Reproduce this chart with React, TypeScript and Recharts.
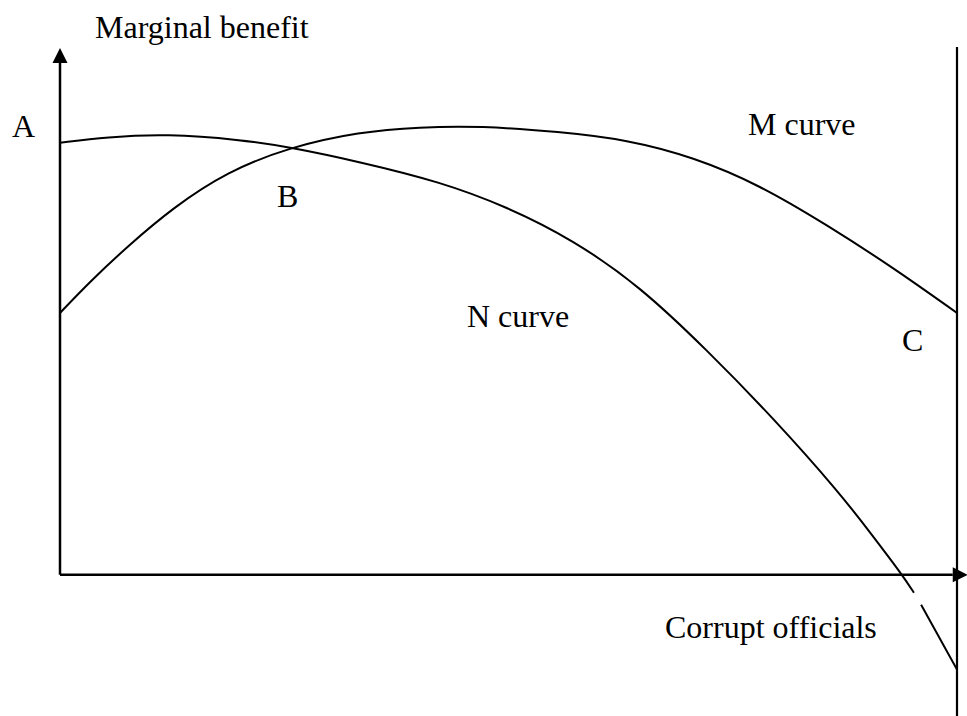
import { LineChart, Line, XAxis, YAxis, ReferenceLine } from "recharts";

// horizontal position = corrupt officials (0..100), vertical = marginal benefit
const mX = [0, 3.3, 7.5, 12.6, 18.6, 25.6, 33.4, 40.1, 46.8, 55.7, 63.2, 70.6, 78.0, 85.5, 92.9, 100];
const mY = [49.7, 55.6, 62.3, 69.7, 76.5, 81.2, 84.1, 85.0, 85.2, 84.1, 82.6, 79.3, 74.0, 66.4, 58.3, 49.7];

// N curve has a small break just below the x axis (null)
const nX = [0, 5.2, 11.9, 20.1, 25.6, 33.4, 42.4, 49.8, 57.2, 64.7, 72.1, 79.5, 87.0, 90.6, 93.9, 95.2, 95.6, 96.0, 100];
const nY = [82.0, 83.1, 83.7, 82.6, 81.2, 78.4, 74.6, 69.9, 63.6, 54.7, 42.7, 29.8, 15.4, 7.4, 0, -3.4, null, -5.7, -18.0];

const mData = mX.map((x, i) => ({ x, y: mY[i] }));
const nData = nX.map((x, i) => ({ x, y: nY[i] }));

const font = { fontFamily: "'Liberation Serif', 'Times New Roman', serif", fontSize: 32, fill: "#000" };

const ArrowLine = (p: any) => {
  const { x1, y1, x2, y2 } = p;
  const a = Math.atan2(y2 - y1, x2 - x1);
  const len = 15;
  const hw = 7.5;
  const bx = x2 - len * Math.cos(a);
  const by = y2 - len * Math.sin(a);
  const pts = `${x2},${y2} ${bx - hw * Math.sin(a)},${by + hw * Math.cos(a)} ${bx + hw * Math.sin(a)},${by - hw * Math.cos(a)}`;
  return (
    <g>
      <line x1={x1} y1={y1} x2={bx} y2={by} stroke="#000" strokeWidth={2.5} />
      <polygon points={pts} fill="#000" />
    </g>
  );
};

export default function App() {
  return (
    <div style={{ position: "absolute", left: 0, top: 0, background: "#fff" }}>
      <LineChart width={967} height={716} margin={{ top: 48, right: 10, bottom: 0, left: 60 }}>
        <XAxis type="number" dataKey="x" domain={[0, 100]} hide allowDataOverflow />
        <YAxis type="number" dataKey="y" domain={[-26.8, 100]} hide allowDataOverflow />
        <ReferenceLine segment={[{ x: 0, y: 0 }, { x: 0, y: 100 }]} ifOverflow="visible" shape={ArrowLine} />
        <ReferenceLine segment={[{ x: 0, y: 0 }, { x: 101.2, y: 0 }]} ifOverflow="visible" shape={ArrowLine} />
        <ReferenceLine segment={[{ x: 100, y: 100.2 }, { x: 100, y: -26.8 }]} ifOverflow="visible" stroke="#000" strokeWidth={2.2} />
        <Line data={mData} dataKey="y" type="basis" stroke="#000" strokeWidth={2} dot={false} isAnimationActive={false} />
        <Line data={nData} dataKey="y" type="basis" stroke="#000" strokeWidth={2} dot={false} isAnimationActive={false} />
        <text x={95} y={38} {...font}>Marginal benefit</text>
        <text x={12} y={137} {...font}>A</text>
        <text x={277} y={207} {...font}>B</text>
        <text x={748} y={135} {...font}>M curve</text>
        <text x={467} y={327} {...font}>N curve</text>
        <text x={902} y={351} {...font}>C</text>
        <text x={665} y={638} {...font}>Corrupt officials</text>
      </LineChart>
    </div>
  );
}
